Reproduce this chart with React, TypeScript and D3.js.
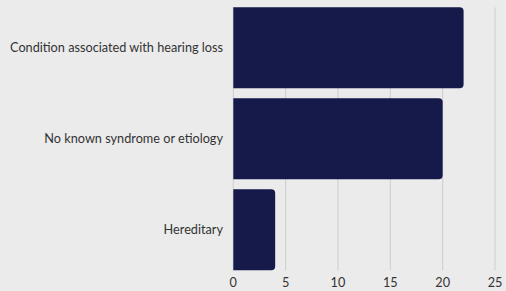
import { useRef, useEffect } from "react";
import * as d3 from "d3";

const categories = [
  "Condition associated with hearing loss",
  "No known syndrome or etiology",
  "Hereditary",
];
const counts = [22, 20, 4];
const xTicks = [0, 5, 10, 15, 20, 25];

export default function App() {
  const svgRef = useRef<SVGSVGElement>(null);

  useEffect(() => {
    if (!svgRef.current) return;
    const width = 506;
    const height = 291;

    const svg = d3.select(svgRef.current);
    svg.selectAll("*").remove();

    svg
      .append("rect")
      .attr("width", width)
      .attr("height", height)
      .attr("fill", "#ebebeb");

    const x = d3.scaleLinear().domain([0, 25]).range([233.3, 495]);
    const y = d3
      .scaleBand<string>()
      .domain(categories)
      .range([7.3, 270.3])
      .paddingInner(0.11)
      .paddingOuter(0);

    // Grid
    svg
      .append("g")
      .selectAll("line")
      .data(xTicks)
      .join("line")
      .attr("x1", (d) => x(d))
      .attr("x2", (d) => x(d))
      .attr("y1", 7.3)
      .attr("y2", 270.3)
      .attr("stroke", "#cdcdcd")
      .attr("stroke-width", 1);

    // Bars, rounded on the right end only
    const r = 4;
    svg
      .append("g")
      .selectAll("path")
      .data(categories)
      .join("path")
      .attr("fill", "#151a4b")
      .attr("d", (d, i) => {
        const x0 = x(0);
        const x1 = x(counts[i]);
        const y0 = y(d)!;
        const h = y.bandwidth();
        return `M${x0},${y0}H${x1 - r}Q${x1},${y0} ${x1},${y0 + r}V${
          y0 + h - r
        }Q${x1},${y0 + h} ${x1 - r},${y0 + h}H${x0}Z`;
      });

    // Category labels
    svg
      .append("g")
      .selectAll("text")
      .data(categories)
      .join("text")
      .attr("x", 223)
      .attr("y", (d) => y(d)! + y.bandwidth() / 2)
      .attr("dy", "0.35em")
      .attr("text-anchor", "end")
      .attr("font-family", "Lato, sans-serif")
      .attr("font-size", 12.7)
      .attr("fill", "#333")
      .text((d) => d);

    // X tick labels
    svg
      .append("g")
      .selectAll("text")
      .data(xTicks)
      .join("text")
      .attr("x", (d) => x(d))
      .attr("y", 283)
      .attr("dy", "0.35em")
      .attr("text-anchor", "middle")
      .attr("font-family", "Lato, sans-serif")
      .attr("font-size", 12.7)
      .attr("fill", "#333")
      .text((d) => d);
  }, []);

  return (
    <svg
      ref={svgRef}
      width={506}
      height={291}
      style={{ position: "absolute", left: 0, top: 0, display: "block" }}
    />
  );
}
